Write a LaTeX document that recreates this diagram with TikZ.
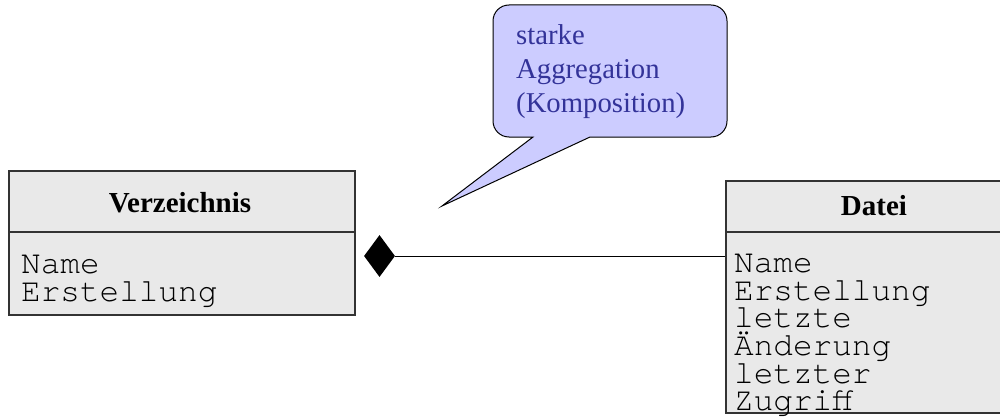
\documentclass[tikz,border=0pt]{standalone}
\usepackage{fontspec}
\setmainfont{Liberation Serif}
\setmonofont{TeX Gyre Cursor}
\usetikzlibrary{shapes.geometric}
\definecolor{boxfill}{HTML}{E9E9E9}
\definecolor{boxline}{HTML}{333333}
\definecolor{notefill}{HTML}{CCCCFF}
\definecolor{notetext}{HTML}{333399}
\tikzset{
  classbox/.style={draw=boxline, fill=boxfill, line width=1.3pt, inner sep=0pt},
  divider/.style={draw=boxline, line width=1.3pt},
  classtitle/.style={font=\fontsize{29}{34}\selectfont\bfseries, anchor=base, inner sep=0pt},
  attr/.style={font=\fontsize{32.7}{27.7}\selectfont\ttfamily, anchor=base west, inner sep=0pt},
  notebody/.style={draw=black, fill=notefill, line width=1pt},
  notetxt/.style={font=\fontsize{28.7}{34}\selectfont, text=notetext, anchor=base west, inner sep=0pt},
  comp/.style={diamond, fill=black, inner sep=0pt, minimum width=31pt, minimum height=42pt},
  assoc/.style={draw=black, line width=1pt}
}
\begin{document}
\begin{tikzpicture}[x=1pt,y=-1pt]
\useasboundingbox (0,0) rectangle (1000,417);
% callout
\path[notebody] (533,137) [sharp corners] -- (442,206) -- (590,137)
  [rounded corners=16] -- (727,137) -- (727,5) -- (493,5) -- (493,137) [sharp corners] -- cycle;
\node[notetxt] (n1) at (516,45) {starke};
\node[notetxt] (n2) at (516,79) {Aggregation};
\node[notetxt] (n3) at (516,113) {(Komposition)};
% Verzeichnis
\node[classbox, minimum width=346pt, minimum height=144pt] (verz) at (182,243) {};
\draw[divider] (verz.west |- 0,232) -- (356,232);
\node[classtitle] (verzt) at (180,212) {Verzeichnis};
\node[attr] (va1) at (21,273) {Name};
\node[attr] (va2) at (21,301) {Erstellung};
% Datei
\node[classbox, minimum width=296pt, minimum height=232pt] (datei) at (874,297) {};
\draw[divider] (datei.west |- 0,232) -- (datei.east |- 0,232);
\node[classtitle] (dateit) at (874,215) {Datei};
\node[attr] (da1) at (734,272) {Name};
\node[attr] (da2) at (734,300) {Erstellung};
\node[attr] (da3) at (734,327) {letzte};
\node[attr] (da4) at (734,355) {Änderung};
\node[attr] (da5) at (734,383) {letzter};
\node[attr] (da6) at (734,410) {Zugriff};
% composition
\node[comp] (dia) at (379.5,256) {};
\draw[assoc] (dia.east) -- (dia.east -| datei.west);
\end{tikzpicture}
\end{document}
